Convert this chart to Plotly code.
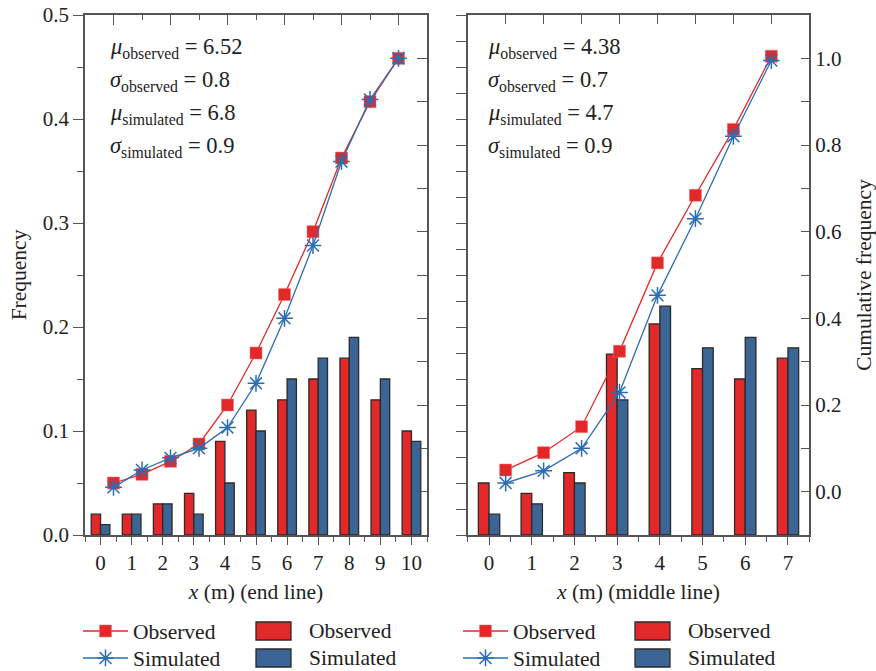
import plotly.graph_objects as go

# ---- data -------------------------------------------------------------
# End line: frequency histogram (bins 0..10 m) and cumulative curves
end_bins = list(range(11))
end_obs_freq = [0.02, 0.02, 0.03, 0.04, 0.09, 0.12, 0.13, 0.15, 0.17, 0.13, 0.10]
end_sim_freq = [0.01, 0.02, 0.03, 0.02, 0.05, 0.10, 0.15, 0.17, 0.19, 0.15, 0.09]
end_obs_cum = [0.02, 0.04, 0.07, 0.11, 0.20, 0.32, 0.455, 0.60, 0.77, 0.90, 1.0]
end_sim_cum = [0.01, 0.05, 0.078, 0.10, 0.148, 0.25, 0.40, 0.568, 0.762, 0.905, 1.0]

# Middle line: frequency histogram (bins 0..7 m) and cumulative curves
mid_bins = list(range(8))
mid_obs_freq = [0.05, 0.04, 0.06, 0.174, 0.203, 0.16, 0.15, 0.17]
mid_sim_freq = [0.02, 0.03, 0.05, 0.13, 0.22, 0.18, 0.19, 0.18]
mid_obs_cum = [0.05, 0.09, 0.15, 0.324, 0.528, 0.684, 0.836, 1.005]
mid_sim_cum = [0.02, 0.048, 0.10, 0.229, 0.453, 0.63, 0.82, 0.995]

end_stats = {"mu_obs": "6.52", "sd_obs": "0.8", "mu_sim": "6.8", "sd_sim": "0.9"}
mid_stats = {"mu_obs": "4.38", "sd_obs": "0.7", "mu_sim": "4.7", "sd_sim": "0.9"}

series_names = ["Observed", "Simulated"]

# ---- style ------------------------------------------------------------
W, H = 876, 671
RED = "#E3282A"
BAR_BLUE = "#3B6595"
LINE_BLUE = "#2B6DB3"
EDGE = "#2b2b2b"
AXC = "#555555"
FONT = "Liberation Serif"
TXT = "#222222"
FS_TICK = 21
FS_TITLE = 21.5
FS_LEG = 21.5
FS_NOTE = 22.5


def px_x(p):
    return p / W


def px_y(p):
    return 1 - p / H


fig = go.Figure()

panels = [
    dict(bins=end_bins, obs=end_obs_freq, sim=end_sim_freq, cobs=end_obs_cum, csim=end_sim_cum,
         xb="x", yb="y", xl="x2", yl="y2", legends=("legend", "legend2"), bw=0.3),
    dict(bins=mid_bins, obs=mid_obs_freq, sim=mid_sim_freq, cobs=mid_obs_cum, csim=mid_sim_cum,
         xb="x3", yb="y3", xl="x4", yl="y4", legends=("legend3", "legend4"), bw=0.25),
]

for p in panels:
    # bars: observed left of the bin centre, simulated right of it
    fig.add_trace(go.Bar(x=p["bins"], y=p["obs"], width=p["bw"], offset=-p["bw"],
                         marker=dict(color=RED, line=dict(color=EDGE, width=1.3)),
                         xaxis=p["xb"], yaxis=p["yb"], showlegend=False, name=series_names[0]))
    fig.add_trace(go.Bar(x=p["bins"], y=p["sim"], width=p["bw"], offset=0,
                         marker=dict(color=BAR_BLUE, line=dict(color=EDGE, width=1.3)),
                         xaxis=p["xb"], yaxis=p["yb"], showlegend=False, name=series_names[1]))
    idx = list(range(len(p["cobs"])))
    fig.add_trace(go.Scatter(x=idx, y=p["cobs"], mode="lines+markers", name=series_names[0],
                             line=dict(color=RED, width=1.3),
                             marker=dict(symbol="square", size=12, color=RED,
                                         line=dict(color="#f07070", width=0.5)),
                             xaxis=p["xl"], yaxis=p["yl"], legend=p["legends"][0]))
    fig.add_trace(go.Scatter(x=idx, y=p["csim"], mode="lines+markers", name=series_names[1],
                             line=dict(color=LINE_BLUE, width=1.3),
                             marker=dict(symbol="asterisk-open", size=14,
                                         line=dict(color=LINE_BLUE, width=1.5)),
                             xaxis=p["xl"], yaxis=p["yl"], legend=p["legends"][1]))

tick_font = dict(family=FONT, size=FS_TICK, color=TXT)
title_font = dict(family=FONT, size=FS_TITLE, color=TXT)
base_axis = dict(showline=True, linecolor=AXC, linewidth=1.5, showgrid=False, zeroline=False,
                 tickcolor=AXC, tickwidth=1.3, tickfont=tick_font, automargin=False)

dom_left = [px_x(85), px_x(427)]
dom_right = [px_x(467.7), px_x(809.3)]
dom_y = [px_y(535), px_y(15)]


def leg(x, y):
    return dict(x=px_x(x), y=px_y(y), xanchor="left", yanchor="middle", bgcolor="rgba(0,0,0,0)",
                font=dict(family=FONT, size=FS_LEG, color=TXT), itemwidth=45, tracegroupgap=0)


fig.update_layout(
    width=W, height=H,
    margin=dict(l=0, r=0, t=0, b=0, autoexpand=False),
    paper_bgcolor="white", plot_bgcolor="rgba(0,0,0,0)",
    barmode="overlay",
    font=dict(family=FONT, size=FS_TICK, color=TXT),
    # left panel
    xaxis=dict(base_axis, domain=dom_left, anchor="y", range=[-0.5, 10.5], tickmode="linear",
               tick0=0, dtick=1, ticks="outside", ticklen=8,
               minor=dict(dtick=0.5, tick0=0.5, ticks="outside", ticklen=5, tickcolor=AXC),
               title=dict(text="<i>x</i> (m) (end line)", font=title_font, standoff=10)),
    xaxis2=dict(base_axis, domain=dom_left, overlaying="x", anchor="y2", side="top",
                range=[-1.0, 11.0], tickmode="linear", tick0=0, dtick=2, ticks="inside",
                ticklen=10, showticklabels=False,
                minor=dict(dtick=1, tick0=1, ticks="inside", ticklen=5, tickcolor=AXC)),
    yaxis=dict(base_axis, domain=dom_y, anchor="x", range=[0, 0.5], tickmode="linear", tick0=0,
               dtick=0.1, tickformat=".1f", ticks="outside", ticklen=10,
               minor=dict(dtick=0.05, ticks="outside", ticklen=6, tickcolor=AXC),
               title=dict(text="Frequency", font=title_font, standoff=10)),
    yaxis2=dict(base_axis, domain=dom_y, overlaying="y", anchor="x2", side="right",
                range=[-0.1, 1.1], tickmode="linear", tick0=0, dtick=0.1, ticks="inside",
                ticklen=10, showticklabels=False),
    # right panel
    xaxis3=dict(base_axis, domain=dom_right, anchor="y3", range=[-0.5, 7.5], tickmode="linear",
                tick0=0, dtick=1, ticks="outside", ticklen=8,
                minor=dict(dtick=0.5, tick0=0.5, ticks="outside", ticklen=5, tickcolor=AXC),
                title=dict(text="<i>x</i> (m) (middle line)", font=title_font, standoff=10)),
    xaxis4=dict(base_axis, domain=dom_right, overlaying="x3", anchor="y4", side="top",
                range=[-1.0, 8.0], tickmode="linear", tick0=0, dtick=1, ticks="inside",
                ticklen=9, showticklabels=False),
    yaxis3=dict(base_axis, domain=dom_y, anchor="x3", range=[0, 0.5], tickmode="linear", tick0=0,
                dtick=0.025, ticks="outside", ticklen=10, showticklabels=False),
    yaxis4=dict(base_axis, domain=dom_y, overlaying="y3", anchor="x4", side="right",
                range=[-0.1, 1.1], tickmode="linear", tick0=0, dtick=0.2, tickformat=".1f",
                ticks="inside", ticklen=9,
                minor=dict(dtick=0.1, ticks="inside", ticklen=9, tickcolor=AXC),
                title=dict(text="Cumulative frequency", font=title_font, standoff=15)),
    legend=leg(78, 631),
    legend2=leg(78, 658),
    legend3=leg(458, 631),
    legend4=leg(458, 658),
)

# statistics boxes
for stats, x0 in [(end_stats, 108), (mid_stats, 486)]:
    lines = [
        f"<i>μ</i><sub>observed</sub> = {stats['mu_obs']}",
        f"<i>σ</i><sub>observed</sub> = {stats['sd_obs']}",
        f"<i>μ</i><sub>simulated</sub> = {stats['mu_sim']}",
        f"<i>σ</i><sub>simulated</sub> = {stats['sd_sim']}",
    ]
    for k, t in enumerate(lines):
        fig.add_annotation(text=t, xref="paper", yref="paper", x=px_x(x0), y=px_y(48 + 33 * k),
                           xanchor="left", yanchor="middle", showarrow=False,
                           font=dict(family=FONT, size=FS_NOTE, color=TXT))

# bar keys drawn beside the curve legends
for sw_x, tx in [(256, 307), (635, 686)]:
    for k, (name, col) in enumerate(zip(series_names, [RED, BAR_BLUE])):
        top = 622 + 27 * k
        fig.add_shape(type="rect", xref="paper", yref="paper",
                      x0=px_x(sw_x), x1=px_x(sw_x + 35), y0=px_y(top + 18), y1=px_y(top),
                      fillcolor=col, line=dict(color=EDGE, width=1.3))
        fig.add_annotation(text=name, xref="paper", yref="paper", x=px_x(tx), y=px_y(top + 9),
                           xanchor="left", yanchor="middle", showarrow=False,
                           font=dict(family=FONT, size=FS_LEG, color=TXT))

fig.write_html("out.html")
